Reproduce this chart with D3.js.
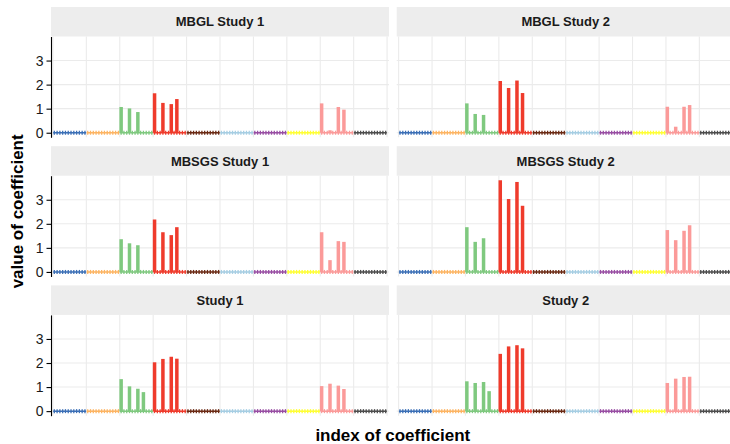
<!DOCTYPE html>
<html>
<head>
<meta charset="utf-8">
<script src="https://cdn.jsdelivr.net/npm/d3@7"></script>
<style>
  body { margin: 0; background: #fff; }
  svg { display: block; font-family: "Liberation Sans", Arial, sans-serif; }
</style>
</head>
<body>
<main></main>
<script>
// panels of the facet
const panelNames = ["MBGL Study 1", "MBGL Study 2", "MBSGS Study 1", "MBSGS Study 2", "Study 1", "Study 2"];

// 10 groups of 12 coefficients
const groupColors = ["#3b6fb6", "#fdb462", "#7fc97f", "#ef3b2c", "#6b2a14",
                     "#a6cee3", "#984ea3", "#ffff33", "#fb9a99", "#4d4d4d"];
const groupSize = 12;

// coefficient indices that are non zero (green, red and pink groups)
const activeIndex = [25, 28, 31, 33, 37, 40, 43, 45, 97, 100, 103, 105];

// values for the indices above, one array per panel
const mbglStudy1  = [1.07, 1.01, 0.86, 0,    1.64, 1.24, 1.19, 1.40, 1.22, 0.10, 1.07, 0.96];
const mbglStudy2  = [1.22, 0.78, 0.74, 0,    2.15, 1.86, 2.17, 1.65, 1.08, 0.25, 1.08, 1.15];
const mbsgsStudy1 = [1.36, 1.19, 1.11, 0,    2.18, 1.65, 1.53, 1.86, 1.65, 0.49, 1.28, 1.25];
const mbsgsStudy2 = [1.86, 1.25, 1.40, 0,    3.81, 3.03, 3.74, 2.75, 1.74, 1.32, 1.71, 1.94];
const study1      = [1.33, 1.03, 0.93, 0.79, 2.03, 2.17, 2.26, 2.18, 1.04, 1.14, 1.06, 0.92];
const study2      = [1.24, 1.17, 1.21, 0.83, 2.38, 2.69, 2.74, 2.61, 1.17, 1.35, 1.42, 1.43];

const panelValues = [mbglStudy1, mbglStudy2, mbsgsStudy1, mbsgsStudy2, study1, study2];
const yTicks = [0, 1, 2, 3];

const drawChart = () => {
    const nCoef = groupColors.length * groupSize;

    const outerWidth = 730, outerHeight = 444;
    const panel = {left: 51, width: 338, colStep: 345.7, top: 36.5, height: 100.8, rowStep: 139.2, strip: 29.5};

    const svg = d3.select("main").append("svg")
        .attr("width", outerWidth)
        .attr("height", outerHeight);

    const xScale = d3.scaleLinear().domain([1 - 1.19, nCoef + 1.19]).range([0, panel.width]);
    const yScale = d3.scaleLinear().domain([-0.19, 4.0]).range([panel.height, 0]);

    panelNames.forEach((name, p) => {
        const col = p % 2, row = Math.floor(p / 2);
        const coefs = d3.range(1, nCoef + 1).map(i => {
            const k = activeIndex.indexOf(i);
            return {index: i, value: k < 0 ? 0 : panelValues[p][k], group: Math.floor((i - 1) / groupSize)};
        });

        const g = svg.append("g")
            .attr("transform", "translate(" + (panel.left + col * panel.colStep) + "," + (panel.top + row * panel.rowStep) + ")");

        // strip
        g.append("rect")
            .attr("x", 0).attr("y", -panel.strip)
            .attr("width", panel.width).attr("height", panel.strip)
            .attr("fill", "#ededed");
        g.append("text")
            .attr("x", panel.width / 2).attr("y", -panel.strip / 2)
            .attr("dy", "0.36em")
            .attr("text-anchor", "middle")
            .attr("font-size", 13).attr("font-weight", "bold")
            .attr("fill", "#1a1a1a")
            .text(name);

        // grid
        g.selectAll(".hgrid").data(yTicks).enter().append("line")
            .attr("x1", 0).attr("x2", panel.width)
            .attr("y1", d => yScale(d)).attr("y2", d => yScale(d))
            .attr("stroke", "#ebebeb").attr("stroke-width", 1.1);
        g.selectAll(".vgrid").data(d3.range(0, groupColors.length + 1)).enter().append("line")
            .attr("x1", d => xScale(d * groupSize + 0.5)).attr("x2", d => xScale(d * groupSize + 0.5))
            .attr("y1", 0).attr("y2", panel.height)
            .attr("stroke", "#ebebeb").attr("stroke-width", 1.1);

        // zero line per group
        g.selectAll(".zero").data(groupColors).enter().append("line")
            .attr("x1", (d, i) => xScale(i * groupSize + 0.6))
            .attr("x2", (d, i) => xScale((i + 1) * groupSize + 0.4))
            .attr("y1", yScale(0)).attr("y2", yScale(0))
            .attr("stroke", d => d).attr("stroke-width", 1.5);

        // small marks for every coefficient
        g.selectAll(".tick0").data(coefs).enter().append("line")
            .attr("x1", d => xScale(d.index)).attr("x2", d => xScale(d.index))
            .attr("y1", yScale(0) - 2).attr("y2", yScale(0) + 2)
            .attr("stroke", d => groupColors[d.group]).attr("stroke-width", 1.3);

        // bars
        g.selectAll(".bar").data(coefs.filter(d => d.value > 0)).enter().append("rect")
            .attr("x", d => xScale(d.index) - 1.75)
            .attr("width", 3.5)
            .attr("y", d => yScale(d.value))
            .attr("height", d => yScale(0) - yScale(d.value))
            .attr("fill", d => groupColors[d.group]);

        if (col === 0) {
            const yAxis = d3.axisLeft(yScale).tickValues(yTicks).tickFormat(d3.format("d"))
                .tickSize(4.5).tickSizeOuter(0).tickPadding(3);
            const ax = g.append("g").call(yAxis);
            ax.select(".domain").attr("stroke", "#000").attr("stroke-width", 1.1);
            ax.selectAll(".tick line").attr("stroke", "#000").attr("stroke-width", 1.1);
            ax.selectAll(".tick text")
                .attr("font-family", "Liberation Sans, Arial, sans-serif")
                .attr("font-size", 14).attr("fill", "#1a1a1a");
        }
    });

    // axis titles
    svg.append("text")
        .attr("x", panel.left + (panel.colStep + panel.width) / 2)
        .attr("y", 441)
        .attr("text-anchor", "middle")
        .attr("font-size", 17).attr("font-weight", "bold")
        .text("index of coefficient");

    svg.append("text")
        .attr("transform", "translate(23," + (panel.top - panel.strip + (panel.rowStep * 2 + panel.strip + panel.height) / 2) + ") rotate(-90)")
        .attr("text-anchor", "middle")
        .attr("font-size", 17).attr("font-weight", "bold")
        .text("value of coefficient");
}

drawChart();
</script>
</body>
</html>
